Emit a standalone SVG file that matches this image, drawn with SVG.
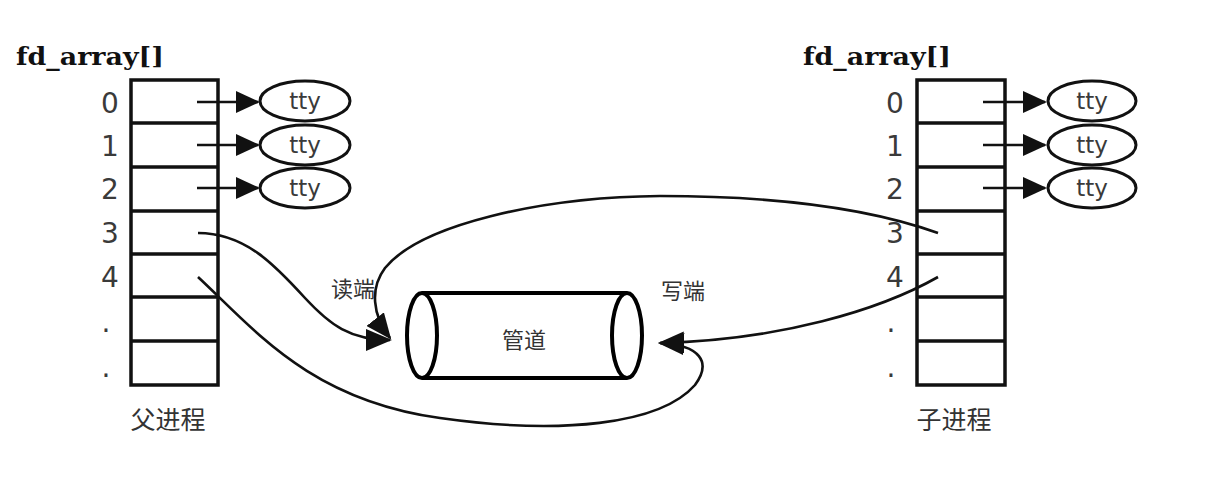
<svg xmlns="http://www.w3.org/2000/svg" width="1215" height="479" viewBox="0 0 1215 479">
<style>
.box{fill:#fff;stroke:#111;stroke-width:3.5}
.row{stroke:#111;stroke-width:3.5}
.ptr{stroke:#111;stroke-width:2.5;fill:none}
.tty{fill:#fff;stroke:#111;stroke-width:3}
.num{font-family:"DejaVu Sans",sans-serif;font-size:28px;fill:#3a3a3a;text-anchor:middle}
.ttyt{font-family:"DejaVu Sans",sans-serif;font-size:23px;fill:#3a3a3a;text-anchor:middle}
.title{font-family:"DejaVu Serif",serif;font-weight:bold;font-size:24px;fill:#111}
.cn{font-family:"Noto Sans CJK SC",sans-serif;fill:#333;text-anchor:middle}
.curve{stroke:#111;stroke-width:2.6;fill:none}
.pipe{fill:#fff;stroke:#000;stroke-width:4}
</style>
<defs>
<marker id="ah" markerWidth="26" markerHeight="22" refX="24" refY="11" orient="auto" markerUnits="userSpaceOnUse">
<path d="M0,0 L26,11 L0,22 Z" fill="#111"/>
</marker>
<marker id="ahc" markerWidth="24" markerHeight="22" refX="22" refY="11" orient="auto" markerUnits="userSpaceOnUse">
<path d="M0,0 L24,11 L0,22 Z" fill="#111"/>
</marker>
</defs>

<g id="parent-array">
<text class="title" x="16" y="65" textLength="148" lengthAdjust="spacingAndGlyphs">fd_array[]</text>
<rect class="box" x="131" y="80" width="87" height="305"/>
<line class="row" x1="131" y1="123" x2="218" y2="123"/>
<line class="row" x1="131" y1="167" x2="218" y2="167"/>
<line class="row" x1="131" y1="211" x2="218" y2="211"/>
<line class="row" x1="131" y1="254" x2="218" y2="254"/>
<line class="row" x1="131" y1="297" x2="218" y2="297"/>
<line class="row" x1="131" y1="341" x2="218" y2="341"/>
<text class="num" x="110" y="113">0</text>
<text class="num" x="110" y="156">1</text>
<text class="num" x="110" y="199">2</text>
<text class="num" x="110" y="243">3</text>
<text class="num" x="110" y="287">4</text>
<text class="num" x="106" y="332">.</text>
<text class="num" x="106" y="377">.</text>
<text class="cn" x="168" y="429" font-size="25">父进程</text>
</g>

<g id="parent-tty">
<line class="ptr" x1="197" y1="102" x2="258" y2="102" marker-end="url(#ahc)"/>
<line class="ptr" x1="197" y1="145" x2="258" y2="145" marker-end="url(#ahc)"/>
<line class="ptr" x1="197" y1="188" x2="258" y2="188" marker-end="url(#ahc)"/>
<ellipse class="tty" cx="305" cy="101" rx="45" ry="20"/>
<ellipse class="tty" cx="305" cy="145" rx="45" ry="20"/>
<ellipse class="tty" cx="305" cy="188" rx="45" ry="20"/>
<text class="ttyt" x="305" y="109">tty</text>
<text class="ttyt" x="305" y="153">tty</text>
<text class="ttyt" x="305" y="196">tty</text>
</g>

<g id="child-array">
<text class="title" x="803" y="65" textLength="148" lengthAdjust="spacingAndGlyphs">fd_array[]</text>
<rect class="box" x="917" y="80" width="88" height="305"/>
<line class="row" x1="917" y1="123" x2="1005" y2="123"/>
<line class="row" x1="917" y1="167" x2="1005" y2="167"/>
<line class="row" x1="917" y1="211" x2="1005" y2="211"/>
<line class="row" x1="917" y1="254" x2="1005" y2="254"/>
<line class="row" x1="917" y1="297" x2="1005" y2="297"/>
<line class="row" x1="917" y1="341" x2="1005" y2="341"/>
<text class="num" x="895" y="113">0</text>
<text class="num" x="895" y="156">1</text>
<text class="num" x="895" y="199">2</text>
<text class="num" x="895" y="243">3</text>
<text class="num" x="895" y="287">4</text>
<text class="num" x="891" y="332">.</text>
<text class="num" x="891" y="377">.</text>
<text class="cn" x="954" y="429" font-size="25">子进程</text>
</g>

<g id="child-tty">
<line class="ptr" x1="983" y1="102" x2="1045" y2="102" marker-end="url(#ahc)"/>
<line class="ptr" x1="983" y1="145" x2="1045" y2="145" marker-end="url(#ahc)"/>
<line class="ptr" x1="983" y1="188" x2="1045" y2="188" marker-end="url(#ahc)"/>
<ellipse class="tty" cx="1092" cy="101" rx="44" ry="20"/>
<ellipse class="tty" cx="1092" cy="145" rx="44" ry="20"/>
<ellipse class="tty" cx="1092" cy="188" rx="44" ry="20"/>
<text class="ttyt" x="1092" y="109">tty</text>
<text class="ttyt" x="1092" y="153">tty</text>
<text class="ttyt" x="1092" y="196">tty</text>
</g>

<g id="pipe">
<rect x="422" y="293" width="205" height="85" fill="#fff"/>
<line class="pipe" x1="422" y1="293" x2="627" y2="293"/>
<line class="pipe" x1="422" y1="378" x2="627" y2="378"/>
<ellipse class="pipe" cx="422" cy="335.5" rx="15" ry="42.5"/>
<ellipse class="pipe" cx="627" cy="335.5" rx="15" ry="42.5"/>
<text class="cn" x="524" y="348" font-size="22">管道</text>
<text class="cn" x="353" y="297" font-size="22">读端</text>
<text class="cn" x="683" y="299" font-size="22">写端</text>
</g>

<g id="connectors">
<path class="curve" d="M198,233 C245,233 275,265 305,298 C330,325 350,340 390,340" marker-end="url(#ah)"/>
<path class="curve" d="M938,233 C860,205 760,196 660,196 C540,197 420,225 385,268 C370,288 372,315 390,338" marker-end="url(#ah)"/>
<path class="curve" d="M198,277 C255,330 310,400 440,418 C560,435 660,425 695,385 C712,362 700,345 660,343" marker-end="url(#ah)"/>
<path class="curve" d="M938,277 C880,310 780,340 660,343" marker-end="url(#ah)"/>
</g>
</svg>
